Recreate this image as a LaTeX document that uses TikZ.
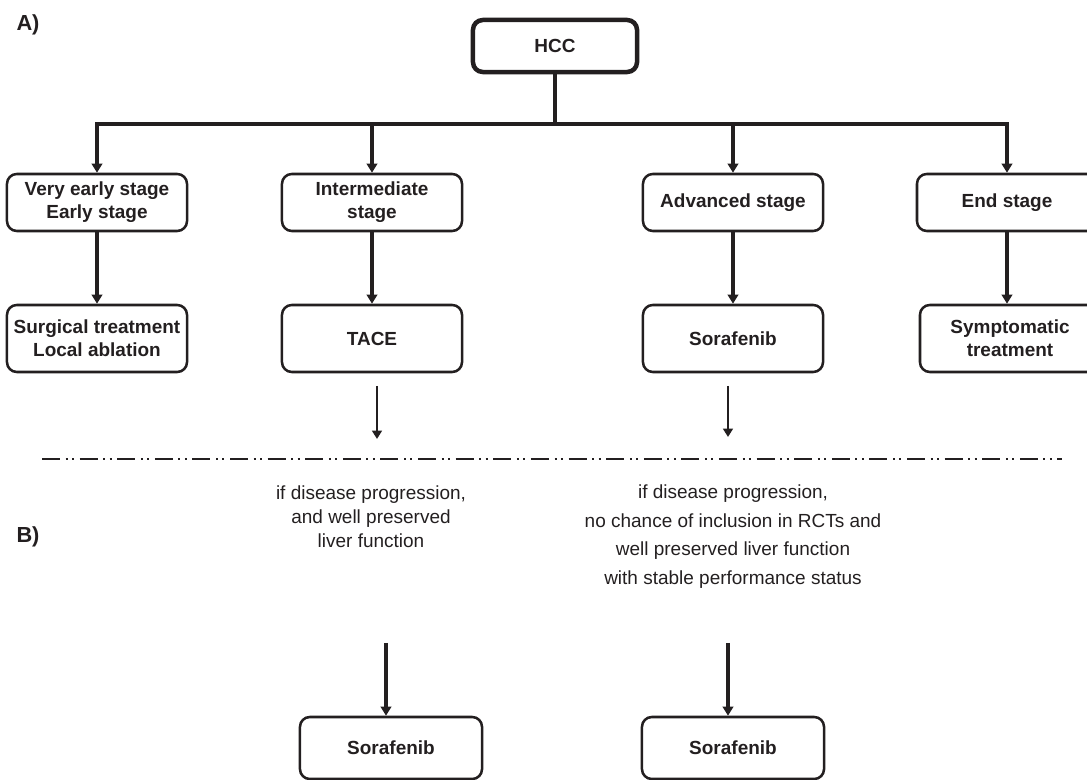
\documentclass[tikz,border=0pt]{standalone}
\usepackage{fontspec}
\setmainfont{Liberation Sans}
\usetikzlibrary{arrows.meta,positioning,calc}
\definecolor{inkdark}{RGB}{35,31,32}
\tikzset{
  stagebox/.style={draw=inkdark, line width=1.8pt, rounded corners=7pt, align=center,
    inner sep=0pt, text=inkdark, font=\bfseries\fontsize{13.5}{16.4}\selectfont},
  rootbox/.style={stagebox, line width=3.2pt, minimum width=4.1cm, minimum height=1.3cm},
  rowone/.style={stagebox, minimum width=4.5cm, minimum height=1.425cm},
  rowtwo/.style={stagebox, minimum width=4.5cm, minimum height=1.675cm},
  rowthree/.style={stagebox, minimum width=4.55cm, minimum height=1.55cm},
  flowln/.style={-{Triangle[length=6.5pt,width=7.5pt]}, line width=2.2pt, inkdark},
  thinflow/.style={-{Triangle[length=6pt,width=7pt]}, line width=1.7pt, inkdark},
  splitln/.style={line width=1.3pt, inkdark,
    dash pattern=on 0.45cm off 0.14cm on 0.05cm off 0.11cm on 0.05cm off 0.14cm},
  notetxt/.style={align=center, text=inkdark, inner sep=0pt},
  panellbl/.style={font=\bfseries\fontsize{15.5}{18}\selectfont, text=inkdark, inner sep=0pt},
}

\begin{document}
\begin{tikzpicture}[x=0.025cm, y=-0.025cm]
    \useasboundingbox (0,0) rectangle (1087,780);
    % panel labels
    \node[panellbl] (lblA) at (28,25) {A)};
    \node[panellbl] (lblB) at (28,537) {B)};
    % root
    \node[rootbox] (hcc) at (555,46) {HCC};
    % stages
    \node[rowone] (s1) at (97,202.5)   {Very early stage\\Early stage};
    \node[rowone] (s2) at (372,202.5)  {Intermediate\\stage};
    \node[rowone] (s3) at (733,202.5)  {Advanced stage};
    \node[rowone] (s4) at (1007,202.5) {End stage};
    % treatments
    \node[rowtwo] (t1) at (97,338.5)   {Surgical treatment\\Local ablation};
    \node[rowtwo] (t2) at (372,338.5)  {TACE};
    \node[rowtwo] (t3) at (733,338.5)  {Sorafenib};
    \node[rowtwo] (t4) at (1010,338.5) {Symptomatic\\treatment};
    % tree from root
    \coordinate (bus) at (555,124);
    \draw[line width=2.2pt, inkdark] (hcc.south) -- (bus);
    \foreach \s in {s1,s2,s3,s4}
      \draw[flowln] (bus) -| (\s.north);
    \foreach \s/\t in {s1/t1,s2/t2,s3/t3}
      \draw[flowln] (\s.south) -- (\t.north);
    \draw[flowln] (s4.south) -- (s4.south |- t4.north);
    % short arrows to the split
    \coordinate (outA) at (377,386);
    \coordinate (endA) at (377,439);
    \coordinate (outB) at (728,386);
    \coordinate (endB) at (728,437);
    \draw[thinflow] (outA) -- (endA);
    \draw[thinflow] (outB) -- (endB);
    % split between A and B
    \coordinate (splitL) at (42,459);
    \coordinate (splitR) at (1062,459);
    \draw[splitln] (splitL) -- (splitR);
    % second line conditions
    \node[notetxt, font=\fontsize{13.5}{17}\selectfont] (condA) at (371,517)
      {if disease progression,\\and well preserved\\liver function};
    \node[notetxt, font=\fontsize{13.5}{20.3}\selectfont] (condB) at (733,536.5)
      {if disease progression,\\no chance of inclusion in RCTs and\\well preserved liver function\\with stable performance status};
    % second line treatment
    \node[rowthree] (b1) at (391,748) {Sorafenib};
    \node[rowthree] (b2) at (733,748) {Sorafenib};
    \coordinate (inA) at (386,643);
    \coordinate (inB) at (728,643);
    \draw[flowln] (inA) -- (inA |- b1.north);
    \draw[flowln] (inB) -- (inB |- b2.north);
  \end{tikzpicture}
\end{document}
